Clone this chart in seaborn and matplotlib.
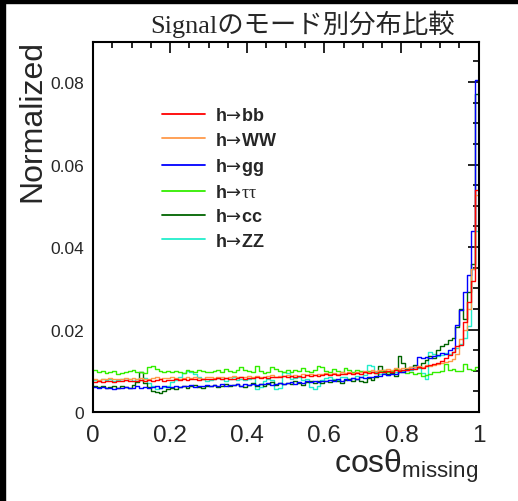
import numpy as np
import pandas as pd
import matplotlib
matplotlib.use("Agg")
import matplotlib.pyplot as plt
import seaborn as sns
from matplotlib.lines import Line2D
from matplotlib.patches import Rectangle
from matplotlib.ticker import MultipleLocator

# ---- data (bin contents x 1e-4, 100 bins over cos(theta_missing) 0..1) ----
bin_edges = np.linspace(0.0, 1.0, 101)
modes = ["h→bb", "h→WW", "h→gg", "h→ττ", "h→cc", "h→ZZ"]
legend_labels = [r"h$\mathsf{→}$bb", r"h$\mathsf{→}$WW", r"h$\mathsf{→}$gg",
                 r"h$\mathsf{→}\mathit{ττ}$", r"h$\mathsf{→}$cc", r"h$\mathsf{→}$ZZ"]
colors = ["#ff0000", "#ff9a4a", "#0000ff", "#33ee00", "#006400", "#22eecc"]

h_bb = [73,75,72,74,76,73,75,74,77,75, 76,74,77,76,78,75,77,79,76,78,
        77,79,78,80,77,79,81,78,80,79, 81,79,82,80,83,81,80,82,84,81,
        83,82,84,82,85,83,86,84,85,87, 85,87,86,88,86,89,87,90,88,89,
        91,89,92,90,93,91,94,92,95,93, 96,94,97,95,98,97,100,98,101,100,
        103,101,105,104,108,107,111,113,116,119, 124,130,137,146,160,162,218,266,317,539]
h_WW = [80,78,81,79,82,80,79,81,83,80, 82,80,83,81,79,82,84,81,83,82,
        84,82,80,83,85,82,84,83,81,84, 85,83,86,84,82,85,87,84,86,85,
        87,85,88,86,84,87,89,86,88,87, 89,87,90,88,91,89,92,90,93,91,
        94,92,95,93,96,94,97,95,98,97, 99,98,101,99,102,101,104,103,106,105,
        107,106,109,108,111,110,113,112,115,116, 119,121,124,128,140,177,200,250,347,525]
h_gg = [60,58,61,57,59,56,58,57,60,58, 57,62,59,61,58,60,63,59,62,60,
        61,64,60,63,62,65,61,64,63,66, 62,65,64,67,63,66,65,68,64,67,
        66,69,65,68,67,70,66,69,71,68, 70,72,69,73,71,74,72,75,73,76,
        74,77,75,79,76,80,78,82,80,84, 82,86,84,88,87,91,89,93,92,96,
        97,101,104,110,133,130,133,131,136,138, 142,140,150,155,211,247,290,332,439,806]
h_tautau = [102,98,100,95,97,99,92,94,97,100, 103,98,96,94,108,112,104,100,97,99,
            96,100,98,95,102,99,97,103,100,98, 96,99,101,97,104,100,98,102,108,103,
            99,96,112,100,95,98,108,104,99,97, 101,98,103,99,106,100,97,102,112,108,
            99,96,104,100,98,106,101,97,103,99, 96,100,98,95,99,102,97,100,104,101,
            98,94,97,92,95,88,90,93,96,98, 100,116,102,104,100,99,116,104,102,108]
h_cc = [62,60,64,58,61,63,59,62,60,57, 65,72,96,70,60,52,48,45,50,55,
        58,56,60,63,59,62,65,61,58,64, 62,66,60,64,67,62,65,68,63,60,
        66,70,64,67,62,69,72,65,70,67, 71,68,74,70,66,73,76,70,74,71,
        75,72,78,74,70,77,80,74,79,76, 73,82,78,85,112,100,92,95,88,136,
        120,105,110,115,108,118,125,135,130,150, 160,165,175,180,205,250,225,290,360,770]
h_zz = [78,76,80,77,79,75,78,81,77,79, 76,80,78,82,70,62,56,58,60,64,
        72,78,84,95,100,98,92,85,80,76, 78,80,82,79,76,80,84,78,81,77,
        79,82,56,60,76,80,78,55,58,98, 95,80,82,85,78,80,60,56,62,78,
        82,85,80,78,86,84,80,82,88,84, 90,115,112,96,92,95,90,94,98,96,
        100,105,102,108,106,95,80,145,140,135, 138,142,140,145,155,165,180,209,347,439]

series = [h_bb, h_WW, h_gg, h_tautau, h_cc, h_zz]
centers = 0.5 * (bin_edges[:-1] + bin_edges[1:])
df = pd.concat([pd.DataFrame({"x": centers, "w": np.array(s) * 1e-4, "mode": m})
                for s, m in zip(series, modes)], ignore_index=True)

# ---- figure ----
sns.set_style("white")
plt.rcParams["font.family"] = ["Liberation Sans", "DejaVu Sans"]
plt.rcParams["mathtext.fontset"] = "custom"
plt.rcParams["mathtext.rm"] = "Liberation Sans"
plt.rcParams["mathtext.it"] = "Liberation Serif"
plt.rcParams["mathtext.sf"] = "DejaVu Sans"

fig = plt.figure(figsize=(5.18, 5.02), dpi=100)
W, H = 518, 502
ax = fig.add_axes([93 / W, 1 - 413 / H, 385.5 / W, 370 / H])

palette = dict(zip(modes, colors))
sns.histplot(data=df, x="x", weights="w", hue="mode", hue_order=modes, bins=bin_edges.tolist(),
             element="step", fill=False, palette=palette, legend=False, ax=ax, linewidth=1.0)

ax.set_xlim(0, 1)
ax.set_ylim(0, 0.0897)
ax.xaxis.set_minor_locator(MultipleLocator(0.05))
ax.yaxis.set_minor_locator(MultipleLocator(0.005))
ax.set_xticks([0, 0.2, 0.4, 0.6, 0.8, 1.0])
ax.set_xticklabels(["0", "0.2", "0.4", "0.6", "0.8", "1"])
ax.set_yticks([0, 0.02, 0.04, 0.06, 0.08])
ax.set_yticklabels(["0", "0.02", "0.04", "0.06", "0.08"])
ax.tick_params(which="both", direction="in", top=True, right=True, color="black", width=1.2)
ax.tick_params(which="major", length=8)
ax.tick_params(which="minor", length=4)
ax.tick_params(axis="x", which="major", labelsize=17.5, pad=9)
ax.tick_params(axis="y", which="major", labelsize=12.5, pad=6.5)
for sp in ax.spines.values():
    sp.set_color("black")
    sp.set_linewidth(1.5)
ax.set_xlabel("")
ax.set_ylabel("")

fig.text(478 / W, 1 - 473 / H, r"cos$\mathrm{\theta_{missing}}$", ha="right", va="baseline", fontsize=23)
fig.text(32 / W, 1 - 40 / H, "Normalized", rotation=90, ha="center", va="top", fontsize=23)
fig.text(303 / W, 1 - 33 / H, "Signalのモード別分布比較", ha="center", va="baseline", fontsize=19,
         family=["Liberation Serif", "Noto Sans CJK JP"])

handles = [Line2D([], [], color=c, lw=1.3) for c in colors]
leg = ax.legend(handles, legend_labels, loc="upper left", bbox_to_anchor=(0.18, 0.823), frameon=False,
                handlelength=2.35, handletextpad=0.55, labelspacing=0.4, borderaxespad=0, borderpad=0,
                prop={"weight": "bold", "size": 13})

# black border strips at top and left
fig.patches.append(Rectangle((0, 0), 5 / W, 1, transform=fig.transFigure, color="black", zorder=10))
fig.patches.append(Rectangle((0, 1 - 4 / H), 1, 4 / H, transform=fig.transFigure, color="black", zorder=10))

fig.savefig("out.png", dpi=100, facecolor="white")
